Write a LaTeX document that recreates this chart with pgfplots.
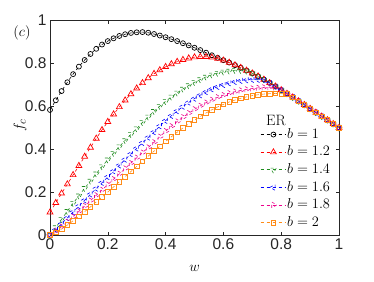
\documentclass[border=0pt]{standalone}
\usepackage{fontspec}
\usepackage{pgfplots}
\usepackage{pgfplotstable}
\pgfplotsset{compat=1.18}
\newfontfamily\ticksf{Liberation Sans}
\definecolor{mgreen}{rgb}{0.12,0.55,0.12}
\definecolor{morange}{rgb}{1,0.55,0.1}
\pgfplotstableread{
w b1 b12 b14 b16 b18 b2
0.00 0.583 0.106 0.000 0.000 0.000 0.000
0.02 0.628 0.150 0.035 0.025 0.018 0.012
0.04 0.671 0.194 0.073 0.052 0.039 0.028
0.06 0.712 0.237 0.111 0.080 0.061 0.046
0.08 0.750 0.280 0.148 0.107 0.085 0.066
0.10 0.785 0.323 0.183 0.135 0.110 0.087
0.12 0.816 0.366 0.218 0.162 0.135 0.109
0.14 0.844 0.408 0.252 0.190 0.160 0.131
0.16 0.868 0.450 0.286 0.217 0.185 0.154
0.18 0.888 0.490 0.319 0.244 0.210 0.177
0.20 0.904 0.528 0.351 0.271 0.235 0.200
0.22 0.917 0.563 0.382 0.298 0.260 0.224
0.24 0.928 0.597 0.412 0.325 0.285 0.248
0.26 0.936 0.628 0.441 0.352 0.310 0.272
0.28 0.942 0.657 0.469 0.378 0.335 0.296
0.30 0.945 0.684 0.496 0.404 0.360 0.320
0.32 0.946 0.709 0.525 0.430 0.384 0.344
0.34 0.943 0.732 0.551 0.455 0.408 0.368
0.36 0.937 0.752 0.577 0.480 0.432 0.391
0.38 0.930 0.769 0.601 0.508 0.458 0.414
0.40 0.922 0.784 0.623 0.533 0.484 0.436
0.42 0.913 0.797 0.644 0.556 0.507 0.458
0.44 0.904 0.808 0.663 0.578 0.529 0.479
0.46 0.894 0.817 0.681 0.599 0.549 0.499
0.48 0.884 0.824 0.697 0.618 0.568 0.518
0.50 0.873 0.829 0.712 0.636 0.586 0.536
0.52 0.862 0.831 0.725 0.652 0.602 0.553
0.54 0.850 0.831 0.737 0.667 0.617 0.569
0.56 0.838 0.828 0.747 0.680 0.630 0.584
0.58 0.826 0.822 0.755 0.691 0.642 0.597
0.60 0.815 0.814 0.761 0.700 0.652 0.609
0.62 0.804 0.804 0.765 0.708 0.661 0.620
0.64 0.792 0.792 0.768 0.714 0.668 0.629
0.66 0.780 0.780 0.768 0.719 0.674 0.637
0.68 0.767 0.767 0.765 0.722 0.679 0.644
0.70 0.754 0.754 0.754 0.724 0.683 0.650
0.72 0.740 0.740 0.740 0.724 0.686 0.654
0.74 0.725 0.725 0.725 0.723 0.688 0.657
0.76 0.709 0.709 0.709 0.709 0.689 0.659
0.78 0.693 0.693 0.693 0.693 0.688 0.660
0.80 0.676 0.676 0.676 0.676 0.676 0.659
0.82 0.659 0.659 0.659 0.659 0.659 0.658
0.84 0.642 0.642 0.642 0.642 0.642 0.642
0.86 0.624 0.624 0.624 0.624 0.624 0.624
0.88 0.607 0.607 0.607 0.607 0.607 0.607
0.90 0.589 0.589 0.589 0.589 0.589 0.589
0.92 0.571 0.571 0.571 0.571 0.571 0.571
0.94 0.553 0.553 0.553 0.553 0.553 0.553
0.96 0.536 0.536 0.536 0.536 0.536 0.536
0.98 0.518 0.518 0.518 0.518 0.518 0.518
1.00 0.500 0.500 0.500 0.500 0.500 0.500
}\datatable
\begin{document}
\begin{tikzpicture}
\path[use as bounding box] (-50pt,-46pt) rectangle (324pt,235pt);
\begin{axis}[
  at={(0,0)}, anchor=south west,
  scale only axis, width=289pt, height=214.5pt,
  xmin=0, xmax=1, ymin=0, ymax=1,
  xtick={0,0.2,0.4,0.6,0.8,1}, ytick={0,0.2,0.4,0.6,0.8,1},
  xticklabels={0,0.2,0.4,0.6,0.8,1}, yticklabels={0,0.2,0.4,0.6,0.8,1},
  tick align=inside, major tick length=3.5pt,
  axis line style={line width=0.6pt, black!85},
  every tick/.style={line width=0.5pt, black!85},
  tick label style={font=\ticksf\fontsize{15.5}{18}\selectfont, black!85},
  /pgf/number format/assume math mode=true,
  xlabel={$w$}, ylabel={$f_c$},
  label style={font=\fontsize{15}{18}\selectfont},
  x label style={at={(rel axis cs:0.5,-0.154)}, anchor=center},
  y label style={at={(rel axis cs:-0.104,0.51)}, anchor=center},
  clip=false,
  legend style={draw=none, fill=none, at={(rel axis cs:0.727,0.503)}, anchor=north west,
    font=\fontsize{15}{18}\selectfont, row sep=3.1pt, inner sep=0pt,
    nodes={inner sep=0.5pt, text height=10.5pt, text depth=3pt}},
  legend cell align=left,
  legend image code/.code={\draw[mark repeat=2,mark phase=2] plot coordinates {(0cm,0cm) (0.45cm,0cm) (0.9cm,0cm)};},
  every axis plot/.append style={line width=0.6pt, dashed, mark options={solid, line width=0.7pt}},
]
\addplot[black, mark=o, mark size=2.5pt] table[x=w,y=b1] {\datatable};
\addlegendentry{$b=1$}
\addplot[red, mark=triangle, mark size=3.4pt] table[x=w,y=b12] {\datatable};
\addlegendentry{$b=1.2$}
\addplot[mgreen, mark=triangle, mark size=3.4pt, mark options={rotate=180}] table[x=w,y=b14] {\datatable};
\addlegendentry{$b=1.4$}
\addplot[blue, mark=triangle, mark size=3.4pt, mark options={rotate=90}] table[x=w,y=b16] {\datatable};
\addlegendentry{$b=1.6$}
\addplot[magenta, mark=triangle, mark size=3.4pt, mark options={rotate=-90}] table[x=w,y=b18] {\datatable};
\addlegendentry{$b=1.8$}
\addplot[morange, mark=square, mark size=2.3pt] table[x=w,y=b2] {\datatable};
\addlegendentry{$b=2$}
\node[font=\fontsize{15}{18}\selectfont] at (rel axis cs:0.782,0.534) {ER};
\node[font=\fontsize{15}{18}\selectfont] at (rel axis cs:-0.097,0.942) {$(c)$};
\end{axis}
\end{tikzpicture}
\end{document}
